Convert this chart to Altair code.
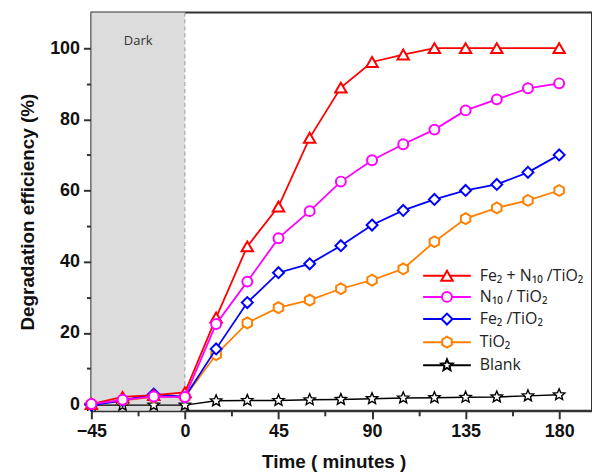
import altair as alt
import pandas as pd

# ---- data ----
time = [-45, -30, -15, 0, 15, 30, 45, 60, 75, 90, 105, 120, 135, 150, 165, 180]
fe_n_tio2 = [0, 2, 2.5, 3.3, 24.3, 44.3, 55.5, 74.8, 88.9, 96.1, 98.2, 100, 100, 100, None, 100]
n_tio2 = [0, 1.2, 2.1, 2, 22.5, 34.4, 46.6, 54.2, 62.5, 68.5, 73, 77.1, 82.5, 85.6, 88.7, 90.1]
fe_tio2 = [-0.3, 1, 2.8, 2, 15.5, 28.5, 36.9, 39.4, 44.5, 50.3, 54.4, 57.5, 60, 61.7, 65.1, 70]
tio2 = [0, 1, 2, 2, 13.9, 22.8, 27.1, 29.2, 32.4, 34.8, 38, 45.6, 52.1, 55.1, 57.2, 60]
blank = [-0.3, -0.3, -0.3, -0.3, 0.9, 1, 1, 1.2, 1.3, 1.5, 1.7, 1.8, 1.9, 2, 2.3, 2.6]

labels = ["Fe₂ + N₁₀ /TiO₂", "N₁₀ / TiO₂", "Fe₂ /TiO₂", "TiO₂", "Blank"]
colors = ["#FF0000", "#FF00FF", "#0000FF", "#FF8000", "#000000"]

x_ticks = [-45, -22.5, 0, 22.5, 45, 67.5, 90, 112.5, 135, 157.5, 180]
y_ticks = [0, 10, 20, 30, 40, 50, 60, 70, 80, 90, 100]
dark_span = [-45, 0]

# marker paths (unit coordinates)
tri = "M0,-1 L1.15,1 L-1.15,1 Z"
circ = "M1,0 A1,1 0 1,1 -1,0 A1,1 0 1,1 1,0 Z"
diam = "M0,-1.1 L1.1,0 L0,1.1 L-1.1,0 Z"
hexa = "M0,-1.1 L0.953,-0.55 L0.953,0.55 L0,1.1 L-0.953,0.55 L-0.953,-0.55 Z"
star = ("M0,-1.2 L0.317,-0.436 L1.141,-0.371 L0.513,0.167 L0.705,0.971 "
        "L0,0.54 L-0.705,0.971 L-0.513,0.167 L-1.141,-0.371 L-0.317,-0.436 Z")
shapes = [tri, circ, diam, hexa, star]
widths = [2, 2, 2, 2, 1.4]
cuts = [0.575, 1.0, 1.1, 0.953, 0.7]
legend_shapes = [f"M-4.8,0 L-{c},0 M{c},0 L4.8,0 " + s for c, s in zip(cuts, shapes)]

series = [fe_n_tio2, n_tio2, fe_tio2, tio2, blank]

rows = []
for lab, vals in zip(labels, series):
    for t, v in zip(time, vals):
        if v is not None:
            rows.append({"series": lab, "t": t, "v": v})
df = pd.DataFrame(rows)

W, H = 504, 401
SYM = 100
xs = alt.Scale(domain=[-45, 195.8], nice=False)
ys = alt.Scale(domain=[-1.9, 110], nice=False)

x_axis = alt.Axis(values=x_ticks, title="Time ( minutes )", grid=False,
                  labelExpr="datum.value % 45 === 0 ? datum.label : ''",
                  tickSize={"condition": {"test": "datum.value % 45 === 0", "value": 8}, "value": 5},
                  labelPadding=4, titlePadding=12, titleX=244, labelFlush=False, labelOverlap=False)
y_axis = alt.Axis(values=y_ticks, title="Degradation efficiency (%)", grid=False,
                  labelExpr="datum.value % 20 === 0 ? datum.label : ''",
                  tickSize={"condition": {"test": "datum.value % 20 === 0", "value": 8}, "value": 5},
                  labelPadding=4, titlePadding=12, labelOverlap=False)

dark_df = pd.DataFrame({"a": [dark_span[0]], "b": [dark_span[1]], "lab": ["Dark"], "mid": [-22.5]})

bg = alt.Chart(dark_df).mark_rect(color="#DCDCDC").encode(
    x=alt.X("a:Q", scale=xs, axis=x_axis), x2="b:Q",
    y=alt.value(0), y2=alt.value(H))
dash = alt.Chart(dark_df).mark_rule(color="#9a9a9a", strokeDash=[4, 3], strokeWidth=1).encode(
    x=alt.X("b:Q", scale=xs), y=alt.value(0), y2=alt.value(H))
dark_txt = alt.Chart(dark_df).mark_text(font="Open Sans", fontSize=13, color="#333").encode(
    x=alt.X("mid:Q", scale=xs), y=alt.value(29), text="lab:N")

layers = [bg, dash, dark_txt]
order = [4, 3, 2, 0, 1]
for i in order:
    d = df[df.series == labels[i]]
    base = alt.Chart(d).encode(x=alt.X("t:Q", scale=xs, axis=x_axis),
                               y=alt.Y("v:Q", scale=ys, axis=y_axis))
    layers.append(base.mark_line(strokeWidth=1.8 if i != 4 else 1.5, color=colors[i]))
    layers.append(base.mark_point(shape=shapes[i], size=SYM, filled=True, fill="white",
                                  stroke=colors[i], strokeWidth=widths[i], opacity=1))

leg = dict(title=None, orient="none", legendX=350, legendY=257,
           symbolSize=SYM, symbolStrokeWidth=2, symbolFillColor="white",
           labelOffset=25, labelFont="Open Sans", labelFontSize=16,
           labelColor="#222", rowPadding=3.3, padding=0, labelLimit=300)

legend_layer = alt.Chart(df).transform_filter("datum.t > 1000").mark_point(
    filled=True, fill="white", strokeWidth=2, opacity=1).encode(
    x=alt.X("t:Q", scale=xs),
    y=alt.Y("v:Q", scale=ys),
    stroke=alt.Stroke("series:N", scale=alt.Scale(domain=labels, range=colors),
                      legend=alt.Legend(**leg)),
    shape=alt.Shape("series:N", scale=alt.Scale(domain=labels, range=legend_shapes),
                    legend=alt.Legend(**leg)))
layers.append(legend_layer)

chart = alt.layer(*layers).properties(
    width=W, height=H,
    background="white",
    autosize=alt.AutoSizeParams(type="none"),
    padding={"left": 92, "top": 11, "right": 0, "bottom": 61},
).configure_view(stroke="#333", strokeWidth=2).configure_axis(
    domainColor="#333", domainWidth=2, tickColor="#333", tickWidth=2,
    labelFont="Liberation Sans", labelFontWeight="bold", labelFontSize=18, labelColor="#111",
    titleFont="Liberation Sans", titleFontWeight="bold", titleFontSize=19, titleColor="#111",
)

chart.save("out.html", embed_options={"renderer": "svg", "actions": False})
